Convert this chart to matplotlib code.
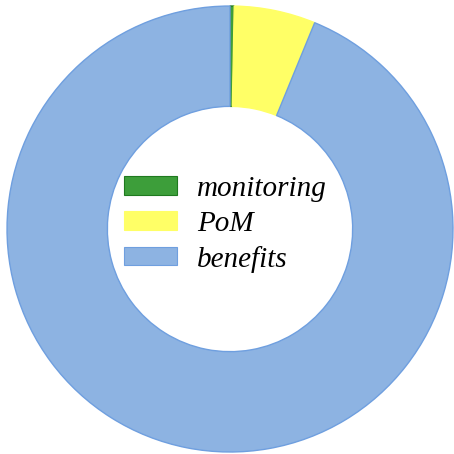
import matplotlib
matplotlib.use("Agg")
import matplotlib.pyplot as plt
from matplotlib.patches import Patch

labels = ["monitoring", "PoM", "benefits"]
values = [0.3, 5.9, 93.8]
colors = ["#3d9e3a", "#ffff66", "#8db3e2"]
edges = ["#1f7a1f", "#ffff66", "#6f9fdf"]

fig = plt.figure(figsize=(4.54, 4.54), dpi=100)
ax = fig.add_axes([0.0, 0.0, 1.0, 1.0])
wedges, _ = ax.pie(values, colors=colors, startangle=90, counterclock=False,
                   radius=1.0, wedgeprops=dict(width=0.45, linewidth=1.0))
for w, e in zip(wedges, edges):
    w.set_edgecolor(e)
ax.set_xlim(-1.031, 1.004)
ax.set_ylim(-1.009, 1.027)
ax.set_aspect("equal")
ax.axis("off")

handles = [Patch(facecolor=c, edgecolor=e, linewidth=0.8) for c, e in zip(colors, edges)]
leg = ax.legend(handles, labels, loc="center", bbox_to_anchor=(0.497, 0.506),
                frameon=False, handlelength=1.8, handleheight=0.6,
                handletextpad=0.7, labelspacing=0.3,
                prop=dict(family="Liberation Serif", style="italic", size=21))
fig.savefig("out.png", dpi=100)
